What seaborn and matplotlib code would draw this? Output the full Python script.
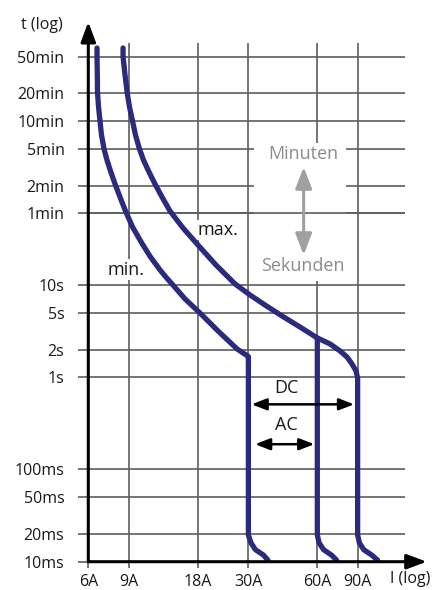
import numpy as np
import pandas as pd
import matplotlib
matplotlib.use("Agg")
import matplotlib.pyplot as plt
from matplotlib.patches import Rectangle
import seaborn as sns

# Tripping characteristic (current in A, time in s)
min_current = [6.55, 6.55, 6.57, 6.58, 6.65, 6.75, 6.85, 7.03, 7.24, 7.50,
               7.85, 8.25, 8.72, 9.36, 10.27, 11.21, 12.34, 13.10, 13.92, 15.87,
               18.44, 22.11, 26.77, 30.0, 30.0, 30.8, 32.2, 34.9, 36.5]
min_time = [3730, 3000, 1900, 1243, 855, 602, 425, 299, 227, 173,
            125, 90.3, 63.6, 42.7, 28.6, 20.2, 14.6, 12.2, 10.3, 7.07,
            4.98, 3.18, 2.03, 1.68, 0.0195, 0.016, 0.0135, 0.0118, 0.0104]

max_current = [8.51, 8.51, 8.68, 8.86, 9.08, 9.36, 9.64, 10.04, 10.45, 10.99,
               11.73, 12.59, 13.64, 15.55, 18.08, 21.67, 26.23, 30.50, 35.46, 42.09,
               50.43, 60.0, 68.2, 75.4, 80.9, 85.1, 88.6, 90.0, 90.0,
               90.0, 91.6, 95.7, 103.7, 110.0]
max_time = [3730, 3000, 1900, 1243, 855, 602, 425, 299, 227, 173,
            125, 90.3, 63.6, 41.6, 27.2, 16.5, 10.3, 7.81, 6.08, 4.62,
            3.51, 2.67, 2.30, 1.93, 1.66, 1.39, 1.17, 0.98, 0.73,
            0.0195, 0.016, 0.0135, 0.0118, 0.0104]

ac_current = [60.0, 60.0, 61.1, 63.9, 69.2, 72.8]
ac_time = [2.67, 0.0195, 0.016, 0.0135, 0.0118, 0.0104]

x_ticks = [6, 9, 18, 30, 60, 90]
x_labels = ["6A", "9A", "18A", "30A", "60A", "90A"]
y_ticks = [0.01, 0.02, 0.05, 0.1, 1, 2, 5, 10, 60, 120, 300, 600, 1200, 3000]
y_labels = ["10ms", "20ms", "50ms", "100ms", "1s", "2s", "5s", "10s",
            "1min", "2min", "5min", "10min", "20min", "50min"]

df = pd.concat([
    pd.DataFrame({"I": min_current, "t": min_time, "curve": "min"}),
    pd.DataFrame({"I": max_current, "t": max_time, "curve": "max"}),
    pd.DataFrame({"I": ac_current, "t": ac_time, "curve": "ac"}),
], ignore_index=True)

sns.set_theme(style="white")
plt.rcParams["font.family"] = ["Open Sans", "DejaVu Sans"]

NAVY = "#2b2b7e"
GRID = "#5e5e5e"
TXT = "#1a1a1a"
GREY = "#8c8c8c"

fig = plt.figure(figsize=(4.43, 5.90), dpi=100)
ax = fig.add_axes([88.3 / 443, 28.3 / 590, 316.7 / 443, 519 / 590])
ax.set_xscale("log")
ax.set_yscale("log")
ax.set_xlim(6, 144.9)
ax.set_ylim(0.01, 4256)

# grid
ax.set_axisbelow(True)
ax.grid(True, which="major", color=GRID, lw=1.2)
for s in ax.spines.values():
    s.set_visible(False)

# white space behind the Minuten / Sekunden marker, 1min line stays continuous
ax.add_patch(Rectangle((31.7, 11.1), 80.1 - 31.7, 347.6 - 11.1,
                       facecolor="white", edgecolor="none", zorder=1))
ax.axhline(60, color=GRID, lw=1.2, zorder=1.1)

sns.lineplot(data=df, x="I", y="t", units="curve", estimator=None, sort=False,
             color=NAVY, lw=3.8, legend=False, ax=ax, zorder=3,
             solid_capstyle="round", solid_joinstyle="round")

ax.set_xticks(x_ticks)
ax.set_xticklabels(x_labels)
ax.set_yticks(y_ticks)
ax.set_yticklabels(y_labels)
ax.minorticks_off()
ax.tick_params(axis="y", length=7.2, width=1.2, color=GRID, pad=10,
               labelsize=11.5, labelcolor=TXT, left=True)
ax.tick_params(axis="x", length=4, width=1.2, color=GRID, pad=5,
               labelsize=11.5, labelcolor=TXT, bottom=True)
ax.set_xlabel("")
ax.set_ylabel("")

# axes with arrow heads
ax_arrow = dict(arrowstyle="-|>,head_length=1.2,head_width=0.45", color="black",
                lw=2.2, shrinkA=0, shrinkB=0, mutation_scale=10)
ax.annotate("", xy=(0, 1.04), xytext=(0, 0), xycoords="axes fraction",
            textcoords="axes fraction", arrowprops=ax_arrow, annotation_clip=False, zorder=5)
ax.annotate("", xy=(1.0685, 0), xytext=(0, 0), xycoords="axes fraction",
            textcoords="axes fraction", arrowprops=ax_arrow, annotation_clip=False, zorder=5)

fig.text(63 / 443, 1 - 25 / 590, "t (log)", ha="right", va="center",
         fontsize=11.5, color=TXT)
fig.text(390 / 443, 1 - 579 / 590, "I (log)", ha="left", va="center",
         fontsize=11.5, color=TXT)

# curve labels
box = dict(facecolor="white", edgecolor="none", pad=1.0)
ax.text(8.77, 14.6, "min.", ha="center", va="center", fontsize=13, color=TXT,
        bbox=box, zorder=2)
ax.text(22.1, 39.6, "max.", ha="center", va="center", fontsize=13, color=TXT,
        bbox=box, zorder=2)

# minutes / seconds marker
ax.text(52.3, 264, "Minuten", ha="center", va="center", fontsize=13, color=GREY, zorder=2)
ax.text(51.7, 16.1, "Sekunden", ha="center", va="center", fontsize=13, color=GREY, zorder=2)
ax.annotate("", xy=(52.3, 191), xytext=(52.3, 21.2),
            arrowprops=dict(arrowstyle="<|-|>,head_length=1.3,head_width=0.5",
                            color="#a0a0a0", lw=2.2, shrinkA=0, shrinkB=0,
                            mutation_scale=10), zorder=2)

# DC / AC ranges
rng_arrow = dict(arrowstyle="<|-|>,head_length=0.9,head_width=0.35", color="black",
                 lw=1.8, shrinkA=0, shrinkB=0, mutation_scale=10)
ax.annotate("", xy=(86.8, 0.509), xytext=(31.0, 0.509), arrowprops=rng_arrow, zorder=4)
ax.annotate("", xy=(58.2, 0.188), xytext=(32.1, 0.188), arrowprops=rng_arrow, zorder=4)
ax.text(43.8, 0.771, "DC", ha="center", va="center", fontsize=13, color=TXT)
ax.text(43.8, 0.304, "AC", ha="center", va="center", fontsize=13, color=TXT)

fig.savefig("out.png", dpi=100)
